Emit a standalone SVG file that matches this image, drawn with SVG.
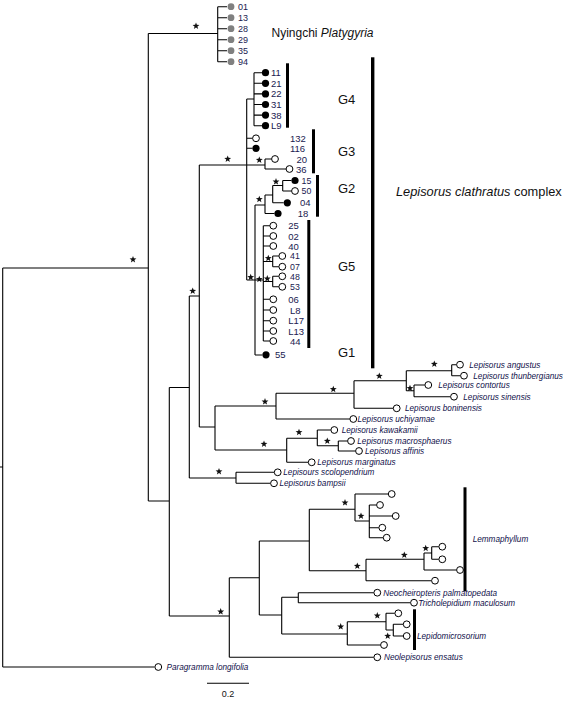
<svg xmlns="http://www.w3.org/2000/svg" xmlns:xlink="http://www.w3.org/1999/xlink" width="566" height="703" viewBox="0 0 566 703">
<style>
.br{fill:none;stroke:#000;stroke-width:1.1}
.bar{fill:#000}
.num{font-family:"Liberation Sans",Arial,sans-serif;font-size:9.5px;fill:#1a1a50}
.tight{font-size:8.8px}
.pnum{font-family:"Liberation Sans",Arial,sans-serif;font-size:9px;fill:#1a1a50}
.sp{font-family:"Liberation Sans",Arial,sans-serif;font-size:8.2px;font-style:italic;fill:#10104a}
.big{font-family:"Liberation Sans",Arial,sans-serif;fill:#111}
.g{font-family:"Liberation Sans",Arial,sans-serif;font-size:13px;fill:#111}
</style>
<defs>
<path id="star" d="M0,-3.6 L0.882,-1.214 3.424,-1.112 1.427,0.464 2.116,2.912 0,1.5 -2.116,2.912 -1.427,0.464 -3.424,-1.112 -0.882,-1.214Z" fill="#111"/>
<circle id="oc" r="3.4" fill="#fff" stroke="#000" stroke-width="1"/>
<circle id="fc" r="3.6" fill="#000"/>
<circle id="gc" r="3.4" fill="#808080"/>
</defs>
<rect width="566" height="703" fill="#fff"/>

<g id="connectors">
<path class="br" d="M0,467H2.7 M2.7,268V667 M2.7,268H148.3 M2.7,667H154.5"/>
<path class="br" d="M148.3,33.5V501 M148.3,33.5H217.7 M217.7,6.7V61.7 M217.7,6.7H227 M217.7,17.7H227 M217.7,28.7H227 M217.7,39.7H227 M217.7,50.7H227 M217.7,61.7H227"/>
<path class="br" d="M148.3,501H169.3 M169.3,387.5V616 M169.3,387.5H189.3 M169.3,616H229.3"/>
<path class="br" d="M189.3,296V478 M189.3,296H199.3 M189.3,478H236 M236,472.3V483.3 M236,472.3H274.2 M236,483.3H270.5"/>
<path class="br" d="M199.3,165V427 M199.3,165H246.7 M199.3,427H215 M215,406V450 M215,406H276 M215,450H286.7"/>
<path class="br" d="M276,393.3V419 M276,393.3H354 M276,419H349.9 M354,380.7V408.3 M354,380.7H406.3 M354,408.3H393.2 M406.3,370.7V390.7 M406.3,370.7H451.7 M406.3,390.7H414 M451.7,364.7V375.7 M451.7,364.7H456.5 M451.7,375.7H460.5 M414,385V396.7 M414,385H424.8 M414,396.7H450.5"/>
<path class="br" d="M286.7,438.3V462.3 M286.7,438.3H317.3 M286.7,462.3H308.2 M317.3,430V445.7 M317.3,430H330.8 M317.3,445.7H338.3 M338.3,441V451 M338.3,441H347.5 M338.3,451H355.5"/>
<path class="br" d="M229.3,577.7V657.3 M229.3,577.7H259.3 M229.3,657.3H373.8 M259.3,541V615 M259.3,541H309.3 M259.3,615H281.7"/>
<path class="br" d="M309.3,509.3V570.7 M309.3,509.3H355 M309.3,570.7H366 M355,494V521 M355,494H388.2 M355,521H369.3 M369.3,505V537.7 M369.3,505H376.5 M369.3,516H392.2 M369.3,527.7H378.8 M369.3,537.7H383.2"/>
<path class="br" d="M366,559.3V580.7 M366,559.3H424 M366,580.7H431.5 M424,553V570 M424,553H431.7 M424,570H456.5 M431.7,546.7V559.3 M431.7,546.7H438.8 M431.7,559.3H438.8"/>
<path class="br" d="M281.7,597.3V634 M281.7,597.3H298.3 M281.7,634H347.3 M298.3,592.7V602.7 M298.3,592.7H373.8 M298.3,602.7H410.5 M347.3,621.7V645 M347.3,621.7H386 M347.3,645H380.5 M386,613.3V630 M386,613.3H394.8 M386,630H393.3 M393.3,624.3V636 M393.3,624.3H403.2 M393.3,636H403.2"/>
<path class="br" d="M246.7,99V280 M246.7,99H254 M254,72.7V125.7 M254,72.7H262 M254,83.3H262 M254,93.9H262 M254,104.5H262 M254,115.1H262 M254,125.7H262 M246.7,138.3H252.6 M246.7,148.3H252.4 M246.7,165H265 M265,159V169 M265,159H271.6 M265,169H286.1 M246.7,280H255"/>
<path class="br" d="M255,205V355 M255,205H265 M255,280H263.3 M255,355H262.4 M265,195V213.5 M265,195H272.7 M265,213.5H274.4 M272.7,185.5V202.8 M272.7,185.5H282.7 M272.7,202.8H283.7 M282.7,180.5V191 M282.7,180.5H291.4 M282.7,191H291.6"/>
<path class="br" d="M263.3,225.7V341 M263.3,225.7H269.9 M263.3,236H269.9 M263.3,246H269.9 M263.3,261.5H272.7 M272.7,256V266.7 M272.7,256H278.9 M272.7,266.7H278.9 M263.3,281.5H272.7 M272.7,276.3V286.8 M272.7,276.3H278.9 M272.7,286.8H278.9 M263.3,299.3H269.9 M263.3,310H269.9 M263.3,320.7H269.9 M263.3,331H269.9 M263.3,341H269.9"/>
</g>

<g id="support-stars">
<use href="#star" x="196" y="26"/>
<use href="#star" x="133" y="259.5"/>
<use href="#star" x="227.7" y="159"/>
<use href="#star" x="192.7" y="291"/>
<use href="#star" x="259.3" y="160"/>
<use href="#star" x="276" y="181.7"/>
<use href="#star" x="259.3" y="199.3"/>
<use href="#star" x="250.7" y="277.3"/>
<use href="#star" x="259.3" y="279.3"/>
<use href="#star" x="267.3" y="278.7"/>
<use href="#star" x="268.3" y="258.3"/>
<use href="#star" x="219" y="471.5"/>
<use href="#star" x="265" y="401.7"/>
<use href="#star" x="333.3" y="389.3"/>
<use href="#star" x="379.3" y="376"/>
<use href="#star" x="434.3" y="364"/>
<use href="#star" x="410" y="388.3"/>
<use href="#star" x="264" y="444"/>
<use href="#star" x="299" y="432.3"/>
<use href="#star" x="327.3" y="441"/>
<use href="#star" x="220.7" y="611.7"/>
<use href="#star" x="345" y="502.7"/>
<use href="#star" x="361" y="516"/>
<use href="#star" x="357.3" y="566"/>
<use href="#star" x="404.3" y="555"/>
<use href="#star" x="425.7" y="548.3"/>
<use href="#star" x="340.7" y="626.7"/>
<use href="#star" x="377.3" y="615.7"/>
<use href="#star" x="387.7" y="636"/>
</g>

<g id="platygyria">
<use href="#gc" x="231" y="6.7"/><text class="pnum" x="238" y="10">01</text>
<use href="#gc" x="231" y="17.7"/><text class="pnum" x="238" y="21">13</text>
<use href="#gc" x="231" y="28.7"/><text class="pnum" x="238" y="32">28</text>
<use href="#gc" x="231" y="39.7"/><text class="pnum" x="238" y="43">29</text>
<use href="#gc" x="231" y="50.7"/><text class="pnum" x="238" y="54">35</text>
<use href="#gc" x="231" y="61.7"/><text class="pnum" x="238" y="65">94</text>
<text class="big" x="271.5" y="37" font-size="12">Nyingchi <tspan font-style="italic">Platygyria</tspan></text>
</g>

<g id="G4">
<use href="#fc" x="265.5" y="72.7"/><text class="num" x="271" y="76.2">11</text>
<use href="#fc" x="265.5" y="83.3"/><text class="num" x="271" y="86.8">21</text>
<use href="#fc" x="265.5" y="93.9"/><text class="num" x="271" y="97.4">22</text>
<use href="#fc" x="265.5" y="104.5"/><text class="num" x="271" y="108">31</text>
<use href="#fc" x="265.5" y="115.1"/><text class="num" x="271" y="118.6">38</text>
<use href="#fc" x="265.5" y="125.7"/><text class="num" x="271" y="129.2">L9</text>
<rect class="bar" x="286" y="63.3" width="3" height="64.4"/>
<text class="g" x="338" y="104">G4</text>
</g>

<g id="G3">
<use href="#oc" x="256" y="138.3"/><text class="num" x="290" y="141.8">132</text>
<use href="#fc" x="256" y="148.3"/><text class="num" x="290" y="151.8">116</text>
<use href="#oc" x="275" y="159"/><text class="num" x="296.5" y="162.5">20</text>
<use href="#oc" x="289.5" y="169"/><text class="num" x="296" y="172.5">36</text>
<rect class="bar" x="312" y="129.3" width="3" height="44"/>
<text class="g" x="338" y="156">G3</text>
</g>

<g id="G2">
<use href="#fc" x="295" y="180.5"/><text class="num tight" x="301.5" y="183.7">15</text>
<use href="#oc" x="295" y="191"/><text class="num tight" x="301.5" y="194.2">50</text>
<use href="#fc" x="287.3" y="202.8"/><text class="num" x="300" y="206.3">04</text>
<use href="#fc" x="278" y="213.5"/><text class="num" x="297.7" y="217">18</text>
<rect class="bar" x="316" y="175" width="3" height="41.7"/>
<text class="g" x="338" y="192.5">G2</text>
</g>

<g id="G5">
<use href="#oc" x="273.3" y="225.7"/><text class="num" x="288.3" y="229.2">25</text>
<use href="#oc" x="273.3" y="236"/><text class="num" x="288.3" y="239.5">02</text>
<use href="#oc" x="273.3" y="246"/><text class="num" x="288.3" y="249.5">40</text>
<use href="#oc" x="282.3" y="256"/><text class="num tight" x="290" y="259.2">41</text>
<use href="#oc" x="282.3" y="266.7"/><text class="num tight" x="290" y="269.9">07</text>
<use href="#oc" x="282.3" y="276.3"/><text class="num tight" x="290" y="279.5">48</text>
<use href="#oc" x="282.3" y="286.8"/><text class="num tight" x="290" y="290">53</text>
<use href="#oc" x="273.3" y="299.3"/><text class="num" x="288.3" y="302.8">06</text>
<use href="#oc" x="273.3" y="310"/><text class="num" x="290" y="313.5">L8</text>
<use href="#oc" x="273.3" y="320.7"/><text class="num" x="288.3" y="324.2">L17</text>
<use href="#oc" x="273.3" y="331"/><text class="num" x="288.3" y="334.5">L13</text>
<use href="#oc" x="273.3" y="341"/><text class="num" x="290" y="344.5">44</text>
<rect class="bar" x="307.3" y="220" width="3" height="128"/>
<text class="g" x="338" y="270.5">G5</text>
</g>

<g id="G1">
<use href="#fc" x="266" y="354.8"/><text class="num" x="275" y="358.3">55</text>
<text class="g" x="338" y="356.5">G1</text>
</g>

<g id="clathratus-complex">
<rect class="bar" x="371" y="57.3" width="3.4" height="311"/>
<text class="big" x="396" y="196" font-size="12.8"><tspan font-style="italic">Lepisorus clathratus</tspan> complex</text>
</g>

<g id="lepisorus-others">
<use href="#oc" x="460" y="364.7"/><text class="sp" x="469.3" y="367.7">Lepisorus angustus</text>
<use href="#oc" x="464" y="375.7"/><text class="sp" x="473.3" y="378.7">Lepisorus thunbergianus</text>
<use href="#oc" x="428.3" y="385"/><text class="sp" x="438.3" y="388">Lepisorus contortus</text>
<use href="#oc" x="454" y="396.7"/><text class="sp" x="463.3" y="399.7">Lepisorus sinensis</text>
<use href="#oc" x="396.7" y="408.3"/><text class="sp" x="405" y="411.3">Lepisorus boninensis</text>
<use href="#oc" x="353.3" y="419"/><text class="sp" x="357.5" y="422">Lepisorus uchiyamae</text>
<use href="#oc" x="334.3" y="430"/><text class="sp" x="341.7" y="433">Lepisorus kawakamii</text>
<use href="#oc" x="351" y="441"/><text class="sp" x="357.3" y="444">Lepisorus macrosphaerus</text>
<use href="#oc" x="359" y="451"/><text class="sp" x="365" y="454">Lepisorus affinis</text>
<use href="#oc" x="311.7" y="462.3"/><text class="sp" x="317.3" y="465.3">Lepisorus marginatus</text>
<use href="#oc" x="277.7" y="472.3"/><text class="sp" x="283.3" y="475.3">Lepisours scolopendrium</text>
<use href="#oc" x="274" y="483.3"/><text class="sp" x="279.5" y="486.3">Lepisorus bampsii</text>
</g>

<g id="lemmaphyllum">
<use href="#oc" x="391.7" y="494"/>
<use href="#oc" x="380" y="505"/>
<use href="#oc" x="395.7" y="516"/>
<use href="#oc" x="382.3" y="527.7"/>
<use href="#oc" x="386.7" y="537.7"/>
<use href="#oc" x="442.3" y="546.7"/>
<use href="#oc" x="442.3" y="559.3"/>
<use href="#oc" x="460" y="570"/>
<use href="#oc" x="435" y="580.7"/>
<rect class="bar" x="463.5" y="487.3" width="3" height="104"/>
<text class="sp" x="472.7" y="542" font-size="8.7">Lemmaphyllum</text>
</g>

<g id="neocheiropteris">
<use href="#oc" x="377.3" y="592.7"/><text class="sp" x="383.3" y="595.7">Neocheiropteris palmatopedata</text>
</g>
<g id="tricholepidium">
<use href="#oc" x="414" y="602.7"/><text class="sp" x="418.3" y="605.7">Tricholepidium maculosum</text>
</g>

<g id="lepidomicrosorium">
<use href="#oc" x="398.3" y="613.3"/>
<use href="#oc" x="406.7" y="624.3"/>
<use href="#oc" x="406.7" y="636"/>
<use href="#oc" x="384" y="645"/>
<rect class="bar" x="413" y="609.3" width="3" height="40.7"/>
<text class="sp" x="417" y="639">Lepidomicrosorium</text>
</g>

<g id="neolepisorus">
<use href="#oc" x="377.3" y="657.3"/><text class="sp" x="384" y="660.3">Neolepisorus ensatus</text>
</g>

<g id="paragramma">
<use href="#oc" x="158.3" y="667"/><text class="sp" x="166.5" y="670">Paragramma longifolia</text>
</g>

<g id="scale">
<path class="br" d="M207,683.3H249"/>
<text class="big" x="228" y="697" font-size="9" text-anchor="middle">0.2</text>
</g>
</svg>
